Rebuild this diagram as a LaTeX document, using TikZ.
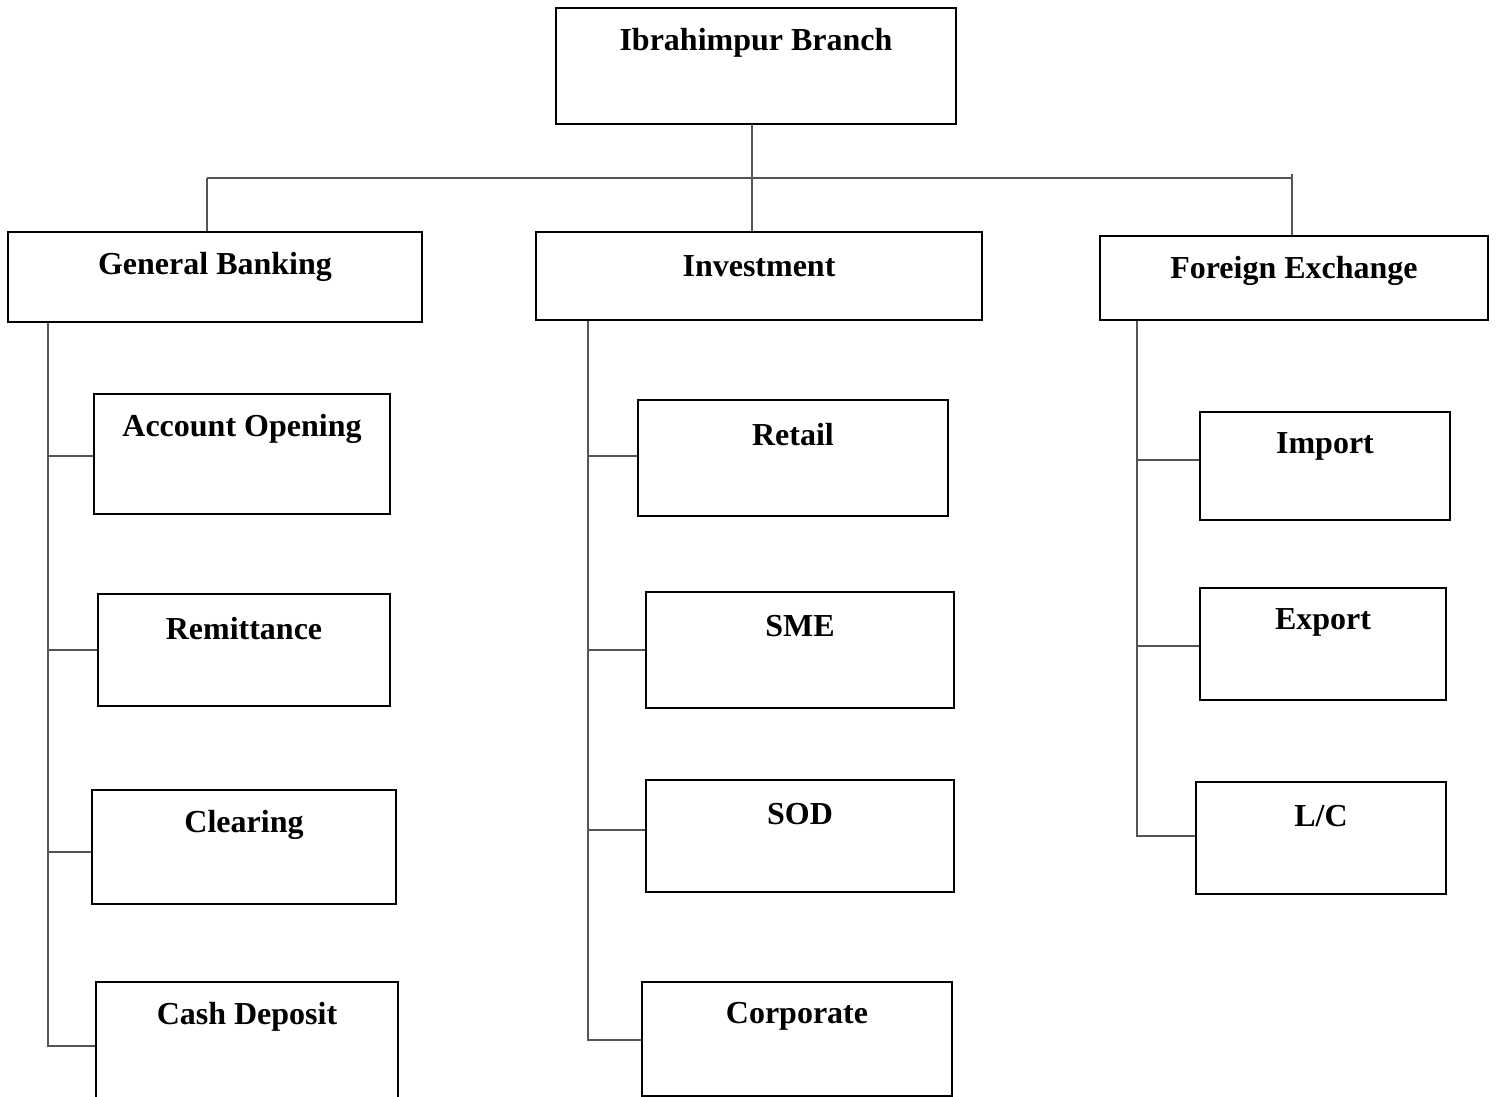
\documentclass[tikz,border=0pt]{standalone}
\usepackage{fontspec}
\setmainfont{Liberation Serif}
\usetikzlibrary{fit}
\definecolor{conngray}{HTML}{555555}
\begin{document}
\begin{tikzpicture}[x=0.5pt,y=-0.5pt,
  box/.style={draw=black,line width=1.1pt,inner sep=0pt,rectangle},
  lbl/.style={anchor=center,yshift=-17.8pt,font=\fontsize{16}{19}\selectfont\bfseries,inner sep=0pt},
  conn/.style={draw=conngray,line width=0.75pt}]
\clip (0,0) rectangle (1496,1097);
\useasboundingbox (0,0) rectangle (1496,1097);
% top
\node[box,fit={(556,8)(956,124)},label={[lbl]north:Ibrahimpur Branch}] (root) {};
% level 1
\node[box,fit={(8,232)(422,322)},label={[lbl]north:General Banking}] (gb) {};
\node[box,fit={(536,232)(982,320)},label={[lbl]north:Investment}] (inv) {};
\node[box,fit={(1100,236)(1488,320)},label={[lbl]north:Foreign Exchange}] (fe) {};
% general banking children
\node[box,fit={(94,394)(390,514)},label={[lbl]north:Account Opening}] (acc) {};
\node[box,fit={(98,594)(390,706)},label={[lbl]north:Remittance}] (rem) {};
\node[box,fit={(92,790)(396,904)},label={[lbl]north:Clearing}] (clr) {};
\node[box,fit={(96,982)(398,1110)},label={[lbl]north:Cash Deposit}] (cash) {};
% investment children
\node[box,fit={(638,400)(948,516)},label={[lbl]north:Retail}] (ret) {};
\node[box,fit={(646,592)(954,708)},label={[lbl]north:SME}] (sme) {};
\node[box,fit={(646,780)(954,892)},label={[lbl]north:SOD}] (sod) {};
\node[box,fit={(642,982)(952,1096)},label={[lbl]north:Corporate}] (corp) {};
% foreign exchange children
\node[box,fit={(1200,412)(1450,520)},label={[lbl]north:Import}] (imp) {};
\node[box,fit={(1200,588)(1446,700)},label={[lbl]north:Export}] (exp) {};
\node[box,fit={(1196,782)(1446,894)},label={[lbl]north:L/C}] (lc) {};
% top connectors
\coordinate (rootx) at (752,124);
\coordinate (hl) at (207,178);
\coordinate (hr) at (1292,178);
\coordinate (hrtop) at (1292,174);
\draw[conn] (rootx) -- (rootx |- inv.north);
\draw[conn] (hl) -- (hr);
\draw[conn] (hl) -- (hl |- gb.north);
\draw[conn] (hrtop) -- (hrtop |- fe.north);
% spines
\coordinate (gbspine) at (48,1047);
\coordinate (invspine) at (588,1041);
\coordinate (fespine) at (1137,837);
\draw[conn] (gbspine |- gb.south) -- (gbspine);
\draw[conn] (invspine |- inv.south) -- (invspine);
\draw[conn] (fespine |- fe.south) -- (fespine);
% branches
\foreach \n/\y in {acc/456,rem/650,clr/852,cash/1046}{
  \coordinate (b-\n) at (48,\y);
  \draw[conn] (b-\n) -- (b-\n -| \n.west);}
\foreach \n/\y in {ret/456,sme/650,sod/830,corp/1040}{
  \coordinate (b-\n) at (588,\y);
  \draw[conn] (b-\n) -- (b-\n -| \n.west);}
\foreach \n/\y in {imp/460,exp/646,lc/836}{
  \coordinate (b-\n) at (1137,\y);
  \draw[conn] (b-\n) -- (b-\n -| \n.west);}
\end{tikzpicture}
\end{document}
